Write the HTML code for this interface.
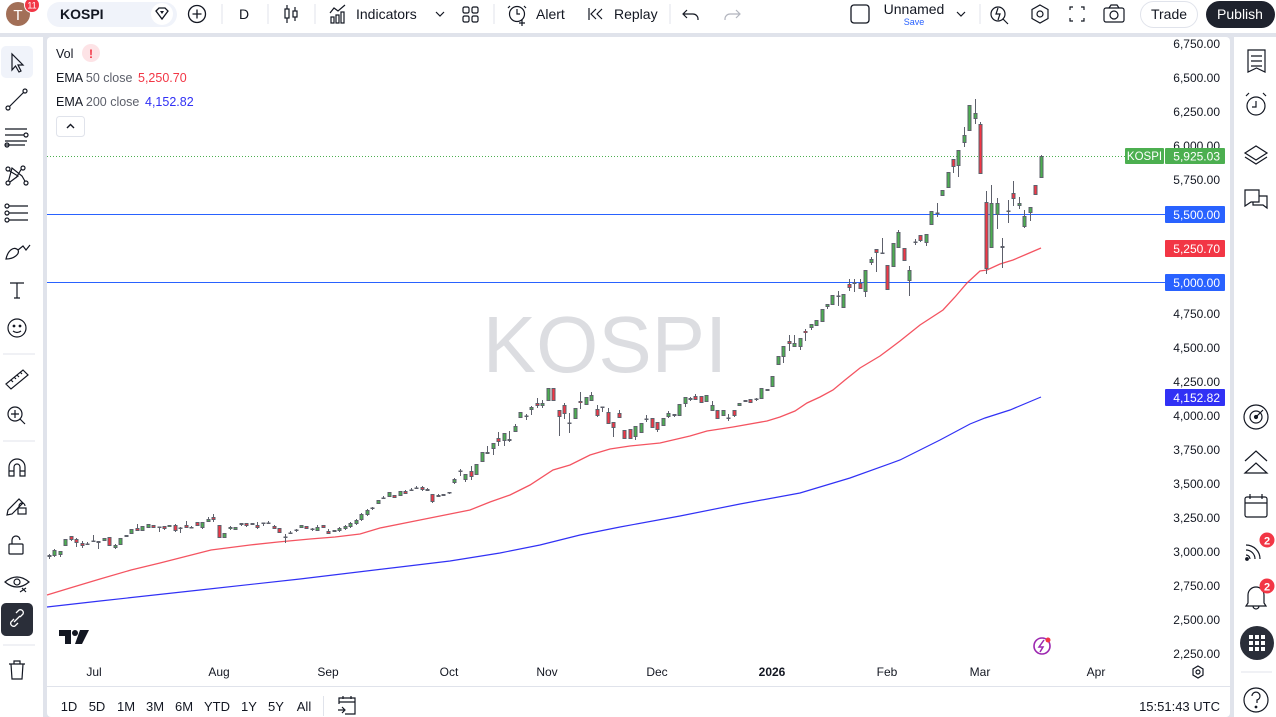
<!DOCTYPE html>
<html><head><meta charset="utf-8"><style>
html,body{margin:0;padding:0;background:#e0e3eb;width:1276px;height:717px;overflow:hidden}
svg{display:block}
text{font-family:"Liberation Sans",Arial,sans-serif}
</style></head><body>
<svg width="1276" height="717" viewBox="0 0 1276 717" xmlns="http://www.w3.org/2000/svg">
<rect x="0" y="0" width="1276" height="717" fill="#e0e3eb"/>
<!-- top bar -->
<rect x="0" y="0" width="1276" height="33" fill="#fff"/>
<!-- left toolbar -->
<rect x="0" y="37" width="43" height="680" fill="#fff"/>
<!-- right toolbar -->
<rect x="1234" y="37" width="42" height="680" fill="#fff"/>
<!-- chart panel -->
<rect x="47" y="37" width="1183" height="680" rx="4" fill="#fff"/>

<!-- ===== TOP BAR ===== -->
<circle cx="18" cy="14" r="12" fill="#a26f57"/>
<text x="18" y="20" font-size="15" fill="#fff" text-anchor="middle">T</text>
<circle cx="32" cy="5" r="7.5" fill="#f23645" stroke="#fff" stroke-width="1"/>
<text x="32" y="8.5" font-size="9" fill="#fff" text-anchor="middle">11</text>
<rect x="47" y="2" width="130" height="25" rx="12.5" fill="#f0f3fa"/>
<text x="60" y="19" font-size="14" font-weight="bold" fill="#131722">KOSPI</text>
<circle cx="162" cy="14" r="11" fill="#fff"/>
<path d="M156 11 L159 8 L165 8 L168 11 L162 19 Z" fill="none" stroke="#131722" stroke-width="1.3"/>
<path d="M160 11 L162 14 L164 11 Z" fill="#131722"/>
<circle cx="197" cy="14" r="8.5" fill="none" stroke="#131722" stroke-width="1.3"/>
<path d="M197 9.5v9M192.5 14h9" stroke="#131722" stroke-width="1.3"/>
<g stroke="#e0e3eb" stroke-width="1">
<line x1="222" y1="4" x2="222" y2="24"/><line x1="268" y1="4" x2="268" y2="24"/><line x1="315" y1="4" x2="315" y2="24"/>
<line x1="494" y1="4" x2="494" y2="24"/><line x1="670" y1="4" x2="670" y2="24"/><line x1="980" y1="4" x2="980" y2="24"/>
</g>
<text x="244" y="19" font-size="14" fill="#131722" text-anchor="middle">D</text>
<g stroke="#131722" stroke-width="1.2" fill="none">
<path d="M287 5v18M295 7v14"/><rect x="285" y="9" width="4" height="9" fill="#fff"/><rect x="293" y="11" width="4" height="6" fill="#fff"/>
<path d="M330 13 L334 8 L338 11 L345 5"/><rect x="331" y="17" width="3" height="6"/><rect x="336" y="15" width="3" height="8"/><rect x="341" y="12" width="3" height="11"/>
<path d="M436 12 L440 16 L444 12"/>
<rect x="463" y="7" width="6" height="6" rx="1.5"/><rect x="472" y="7" width="6" height="6" rx="1.5"/><rect x="463" y="16" width="6" height="6" rx="1.5"/><rect x="472" y="16" width="6" height="6" rx="1.5"/>
<circle cx="517" cy="14" r="7.5"/><path d="M517 9v5h3M510 6l-2 2M524 6l2 2M522 20v6M519 23h6"/>
<path d="M596 9 L591 14 L596 19M602 9 L597 14 L602 19M589 8v12"/>
<path d="M687 10 L683 14 L687 18M684 14 h9 a5 5 0 0 1 5 5v1"/>
</g>
<g stroke="#b2b5be" stroke-width="1.2" fill="none"><path d="M736 10 L740 14 L736 18M739 14 h-9 a5 5 0 0 0 -5 5v1"/></g>
<text x="356" y="19" font-size="14" fill="#131722">Indicators</text>
<text x="536" y="19" font-size="14" fill="#131722">Alert</text>
<text x="614" y="19" font-size="14" fill="#131722">Replay</text>
<rect x="851" y="5" width="18" height="18" rx="3" fill="none" stroke="#131722" stroke-width="1.3"/>
<text x="914" y="14" font-size="14" fill="#131722" text-anchor="middle">Unnamed</text>
<text x="914" y="25" font-size="9" fill="#2962ff" text-anchor="middle">Save</text>
<g stroke="#131722" stroke-width="1.2" fill="none">
<path d="M957 12 L961 16 L965 12"/>
<circle cx="998" cy="14" r="7"/><path d="M1003 19 l5 5M998 8 l-2 6 h4 l-2 6"/>
<path d="M1040 5 L1048 9.5 L1048 18.5 L1040 23 L1032 18.5 L1032 9.5 Z"/><circle cx="1040" cy="14" r="3"/>
<path d="M1070 10v-3h3M1081 7h3v3M1084 18v3h-3M1073 21h-3v-3"/>
<rect x="1104" y="8" width="20" height="14" rx="2"/><circle cx="1114" cy="15" r="4"/><path d="M1109 8l2-3h6l2 3"/>
</g>
<rect x="1140.5" y="1.5" width="57" height="26" rx="13" fill="#fff" stroke="#e0e3eb"/>
<text x="1169" y="19" font-size="14" fill="#131722" text-anchor="middle">Trade</text>
<rect x="1206" y="1" width="69" height="27" rx="13.5" fill="#1e222d"/>
<text x="1240" y="19" font-size="14" fill="#fff" text-anchor="middle">Publish</text>

<!-- ===== LEFT TOOLBAR ===== -->
<rect x="1" y="46" width="32" height="32" rx="5" fill="#f0f3fa"/>
<rect x="1" y="603" width="32" height="33" rx="5" fill="#2a2e39"/>
<g stroke="#e0e3eb"><line x1="3" y1="354" x2="35" y2="354"/><line x1="3" y1="441" x2="35" y2="441"/><line x1="3" y1="645" x2="35" y2="645"/></g>
<g stroke="#131722" stroke-width="1.2" fill="none">
<path d="M12 54 L12 70 L15.5 66 L19 72 L21 71 L18 65 L23 65 Z"/>
<path d="M8 108 L24 92"/><circle cx="8" cy="108" r="2" fill="#fff"/><circle cx="25" cy="91" r="2" fill="#fff"/>
<path d="M5 129h22M5 135h22M5 141h22"/><circle cx="7" cy="145" r="2" fill="#fff"/><circle cx="26" cy="135" r="2" fill="#fff"/><path d="M5 145h20"/>
<path d="M8 183 L12 168 L22 176 L26 183 M8 170 L18 176 L10 182 M22 168 L16 178"/><circle cx="8" cy="169" r="2" fill="#fff"/><circle cx="23" cy="168" r="2" fill="#fff"/><circle cx="8" cy="183" r="2" fill="#fff"/><circle cx="26" cy="183" r="2" fill="#fff"/>
<path d="M8 206h20M8 213h20M8 220h20"/><circle cx="7" cy="206" r="2" fill="#fff"/><circle cx="7" cy="213" r="2" fill="#fff"/><circle cx="7" cy="220" r="2" fill="#fff"/>
<path d="M6 259 C8 250 14 246 18 250 C20 254 14 259 6 259 Z M18 250 L23 246 L26 250 L30 245"/>
<path d="M10 283h14M17 283v15M14 298h6"/>
<circle cx="17" cy="328" r="9"/><circle cx="14" cy="326" r="0.8" fill="#131722"/><circle cx="20" cy="326" r="0.8" fill="#131722"/><path d="M13 331 q4 3 8 0"/>
<path d="M6 384 L23 370 L28 375 L11 389 Z M11 380l2 2M14 377l2 2M17 375l2 2M20 372l2 2"/>
<circle cx="15" cy="414" r="7"/><path d="M20 419 l5 5M15 410v8M11 414h8"/>
<path d="M9 476 v-9 a8 8 0 0 1 16 0 v9 h-5 v-9 a3 3 0 0 0 -6 0 v9 Z M9 471h5M20 471h5"/>
<path d="M8 510 L19 499 L23 503 L12 514 L7 515 Z"/><rect x="18" y="508" width="8" height="6"/><path d="M19 508v-2a3 3 0 0 1 6 0"/>
<rect x="9" y="544" width="14" height="10" rx="1"/><path d="M12 544v-4a4 4 0 0 1 8 0"/>
<path d="M5 582 q12 -10 24 0 q-12 10 -24 0 Z"/><circle cx="17" cy="582" r="3"/><path d="M20 592 l6 -4M22 588l4 4"/>
</g>
<g stroke="#fff" stroke-width="1.3" fill="none"><path d="M14 619 l-3 3 a3 3 0 0 0 4 4 l3 -3 M20 617 l3 -3 a3 3 0 0 0 -4 -4 l-3 3 M14 622 l6 -6"/></g>
<g stroke="#131722" stroke-width="1.2" fill="none"><path d="M9 664h16M14 664v-3h6v3M11 664 l1 15h10 l1 -15"/></g>

<!-- ===== RIGHT TOOLBAR ===== -->
<g stroke="#131722" stroke-width="1.2" fill="none">
<path d="M1248 50 h17 v22 l-8.5 -4 l-8.5 4 Z M1251 56h11M1251 61h11M1251 66h11"/>
<circle cx="1256" cy="106" r="9"/><path d="M1256 101v6h-4M1246 96l3 -3M1266 96l-3 -3"/>
<path d="M1245 153 L1256 146 L1267 153 L1256 160 Z M1245 157 L1256 164 L1267 157"/>
<path d="M1245 190 h14 v12 h-8 l-6 4 Z M1259 196 h8 v12 l-4 -3 h-10 v-3"/>
<circle cx="1256" cy="417" r="12"/><circle cx="1256" cy="417" r="6"/><circle cx="1256" cy="417" r="1.5" fill="#131722"/><path d="M1256 417 l7 -7"/>
<path d="M1245 461 L1256 451 L1267 461 M1245 473 L1256 463 L1267 473 Z"/>
<rect x="1245" y="497" width="22" height="20" rx="2"/><path d="M1245 503h22M1250 494v5M1262 494v5"/>
<path d="M1246 545 a14 14 0 0 1 14 14 M1246 550 a9 9 0 0 1 9 9 M1246 555 a4 4 0 0 1 4 4"/><circle cx="1247" cy="559" r="1.3" fill="#131722"/>
<path d="M1248 603 v-8 a8 8 0 0 1 16 0 v8 l2 3 h-20 Z M1253 606 a3 3 0 0 0 6 0"/>
<circle cx="1256" cy="700" r="12"/><path d="M1252 696 a4 4 0 1 1 5 4 v3"/><circle cx="1256" cy="707" r="0.8" fill="#131722"/>
</g>
<circle cx="1267" cy="540" r="7.5" fill="#f23645"/><text x="1267" y="544.5" font-size="11" font-weight="bold" fill="#fff" text-anchor="middle">2</text>
<circle cx="1267" cy="586" r="7.5" fill="#f23645"/><text x="1267" y="590.5" font-size="11" font-weight="bold" fill="#fff" text-anchor="middle">2</text>
<circle cx="1257" cy="643" r="17" fill="#2a2e39"/>
<g fill="#fff"><rect x="1249" y="635" width="4" height="4"/><rect x="1255" y="635" width="4" height="4"/><rect x="1261" y="635" width="4" height="4"/><rect x="1249" y="641" width="4" height="4"/><rect x="1255" y="641" width="4" height="4"/><rect x="1261" y="641" width="4" height="4"/><rect x="1249" y="647" width="4" height="4"/><rect x="1255" y="647" width="4" height="4"/><rect x="1261" y="647" width="4" height="4"/></g>
<line x1="1241" y1="672" x2="1272" y2="672" stroke="#e0e3eb"/>

<!-- ===== CHART ===== -->
<text x="605" y="372" font-size="80" fill="#dcdde1" text-anchor="middle">KOSPI</text>

<!-- horizontal lines -->
<line x1="47" y1="214.5" x2="1165" y2="214.5" stroke="#2962ff" stroke-width="1"/>
<line x1="47" y1="282.5" x2="1165" y2="282.5" stroke="#2962ff" stroke-width="1"/>
<line x1="47" y1="156.5" x2="1125" y2="156.5" stroke="#4caf50" stroke-width="1" stroke-dasharray="1 2"/>

<!-- EMA lines -->
<polyline fill="none" stroke="#f23645" stroke-opacity="0.85" stroke-width="1.3" points="47,595 70,588 100,579 131,570 160,563 211,550 250,545 278,542 310,539 335,537 360,534 380,528 420,520 450,514 470,510 490,502 510,495 530,485 553,470 570,465 590,455 610,449 630,446 660,443 690,436 707,431 733,427 767,421 780,417 795,411 807,403 820,397 833,390 845,380 860,368 880,356 900,341 920,325 943,310 955,297 967,283 980,271 987,270 1000,264 1013,260 1027,254 1041,248"/>
<polyline fill="none" stroke="#3131f5" stroke-width="1.2" points="47,607 100,601 200,590 300,579 400,567 450,561 500,553 540,545 580,535 620,527 680,516 740,504 800,493 850,478 900,460 940,440 970,424 985,418 1010,410 1041,397"/>

<!-- candles: wick lines -->
<g stroke="#5d606b" stroke-width="1">
<path d="M49.5 554v5M54.5 549v8M60.5 551v6M65.5 539v7M71.5 536v5M76.5 538v9M82.5 541v7M87.5 542v3M93.5 535v7M98.5 541v8M104.5 538v3M109.5 537v9M115.5 544v5M120.5 538v7M126.5 535v2M131.5 529v5M137.5 524v7M142.5 526v5M148.5 524v4M153.5 525v3M159.5 527v5M164.5 526v4M169.5 525v2M175.5 524v8M180.5 527v6M186.5 521v7M191.5 526v2M197.5 522v4M202.5 522v7M208.5 517v5M213.5 514v8M219.5 525v13M224.5 533v5M230.5 526v4M235.5 527v3M241.5 523v3M246.5 523v4M252.5 523v2M257.5 522v7M263.5 523v3M268.5 521v3M274.5 525v4M279.5 528v5M285.5 534v9M290.5 531v3M296.5 529v3M301.5 525v3M306.5 526v3M312.5 528v3M317.5 525v6M323.5 525v3M328.5 529v5M334.5 530v2M339.5 527v5M345.5 525v5M350.5 522v6M356.5 519v6M361.5 513v8M367.5 509v7"/>
<path d="M372.5 507v3M378.5 500v4M383.5 496v3M389.5 492v5M394.5 495v3M400.5 491v5M405.5 490v4M411.5 488v3M416.5 486v3M422.5 486v5M427.5 488v3M432.5 494v9M438.5 494v3M443.5 494v2M449.5 492v2M454.5 478v6M460.5 469v7M465.5 474v8M471.5 466v14M476.5 464v11M482.5 452v10M487.5 446v8M493.5 443v12M498.5 432v14M504.5 433v13M509.5 431v11M515.5 424v8M520.5 412v6M526.5 414v6M531.5 406v9M537.5 398v10M542.5 400v8M548.5 388v13M553.5 388v13M559.5 410v26M564.5 403v16M569.5 413v20M575.5 408v11M580.5 392v17M586.5 397v8M591.5 392v9M597.5 405v12M602.5 407v5M608.5 408v16"/>
<path d="M613.5 422v15M619.5 410v8M624.5 430v9M630.5 429v10M635.5 426v14M641.5 423v10M646.5 415v7M652.5 418v10M657.5 422v10M663.5 418v8M668.5 411v7M674.5 414v3M679.5 404v12M685.5 397v10M690.5 397v4M695.5 394v6M701.5 396v7M706.5 395v7M712.5 401v10M717.5 410v9M723.5 410v6M728.5 414v7M734.5 410v7M739.5 403v3M745.5 400v2M750.5 399v4M756.5 398v3M761.5 388v11M767.5 389v2M772.5 376v11M778.5 356v9M783.5 346v17M789.5 335v16M794.5 335v12M800.5 338v12M805.5 329v12M811.5 324v6M816.5 320v6M822.5 309v13M827.5 304v5M832.5 295v10M838.5 291v15M843.5 294v14"/>
<path d="M849.5 279v12M854.5 279v13M860.5 279v10M865.5 270v27M871.5 257v8M876.5 249v23M882.5 238v16M887.5 265v25M893.5 243v24M898.5 230v18M904.5 248v13M909.5 266v30M915.5 239v6M920.5 235v7M926.5 234v12M931.5 211v14M937.5 203v14M942.5 190v6M948.5 172v16M953.5 159v14M958.5 150v27M964.5 127v20M969.5 105v26M975.5 99v25M980.5 122v52M986.5 191v83M991.5 185v63M997.5 198v31M1002.5 238v30M1008.5 200v23M1013.5 181v25M1019.5 197v12M1024.5 210v18M1030.5 207v14M1035.5 185v10M1041.5 155v23"/>
</g>

<!-- candle bodies (outer dark) -->
<g fill="#5d606b">
<rect x="47.5" y="555" width="4" height="2"/><rect x="52.5" y="550" width="4" height="6"/><rect x="58.5" y="551" width="4" height="4"/><rect x="63.5" y="539" width="4" height="7"/><rect x="69.5" y="536" width="4" height="4"/><rect x="74.5" y="539" width="4" height="4"/><rect x="80.5" y="543" width="4" height="3"/><rect x="85.5" y="543.5" width="4" height="1.5"/><rect x="91.5" y="540.5" width="4" height="1.5"/><rect x="96.5" y="541" width="4" height="2"/><rect x="102.5" y="538" width="4" height="3"/><rect x="107.5" y="537" width="4" height="9"/><rect x="113.5" y="545" width="4" height="3"/><rect x="118.5" y="538" width="4" height="7"/><rect x="124.5" y="535" width="4" height="2"/><rect x="129.5" y="529" width="4" height="5"/><rect x="135.5" y="528" width="4" height="3"/><rect x="140.5" y="526" width="4" height="5"/><rect x="146.5" y="524" width="4" height="4"/><rect x="151.5" y="525" width="4" height="3"/><rect x="157.5" y="526.5" width="4" height="1.5"/><rect x="162.5" y="526" width="4" height="3"/><rect x="167.5" y="525" width="4" height="2"/><rect x="173.5" y="525" width="4" height="6"/><rect x="178.5" y="527.5" width="4" height="1.5"/><rect x="184.5" y="525" width="4" height="3"/><rect x="189.5" y="527" width="4" height="1.5"/><rect x="195.5" y="522" width="4" height="4"/><rect x="200.5" y="522" width="4" height="6"/><rect x="206.5" y="519" width="4" height="3"/><rect x="211.5" y="517" width="4" height="3"/><rect x="217.5" y="525" width="4" height="13"/><rect x="222.5" y="533" width="4" height="5"/><rect x="228.5" y="527" width="4" height="2"/><rect x="233.5" y="527" width="4" height="3"/><rect x="239.5" y="523" width="4" height="2"/><rect x="244.5" y="523" width="4" height="3"/><rect x="250.5" y="523" width="4" height="2"/><rect x="255.5" y="525" width="4" height="3"/><rect x="261.5" y="522.5" width="4" height="1.5"/><rect x="266.5" y="522.5" width="4" height="1.5"/><rect x="272.5" y="526" width="4" height="3"/><rect x="277.5" y="528" width="4" height="5"/><rect x="283.5" y="536.5" width="4" height="1.5"/><rect x="288.5" y="532.5" width="4" height="1.5"/><rect x="294.5" y="529.5" width="4" height="1.5"/><rect x="299.5" y="525" width="4" height="3"/><rect x="304.5" y="526" width="4" height="3"/><rect x="310.5" y="528.5" width="4" height="1.5"/><rect x="315.5" y="527" width="4" height="4"/><rect x="321.5" y="525" width="4" height="3"/><rect x="326.5" y="531" width="4" height="3"/><rect x="332.5" y="530" width="4" height="2"/><rect x="337.5" y="528" width="4" height="3"/><rect x="343.5" y="526" width="4" height="3"/><rect x="348.5" y="523" width="4" height="4"/><rect x="354.5" y="520" width="4" height="4"/><rect x="359.5" y="514" width="4" height="6"/><rect x="365.5" y="510" width="4" height="5"/>
<rect x="370.5" y="507.5" width="4" height="1.5"/><rect x="376.5" y="500" width="4" height="4"/><rect x="381.5" y="497.5" width="4" height="1.5"/><rect x="387.5" y="492" width="4" height="5"/><rect x="392.5" y="495" width="4" height="3"/><rect x="398.5" y="491" width="4" height="5"/><rect x="403.5" y="491" width="4" height="3"/><rect x="409.5" y="489.5" width="4" height="1.5"/><rect x="414.5" y="487.5" width="4" height="1.5"/><rect x="420.5" y="487" width="4" height="3"/><rect x="425.5" y="489" width="4" height="2"/><rect x="430.5" y="494" width="4" height="8"/><rect x="436.5" y="495" width="4" height="2"/><rect x="441.5" y="494" width="4" height="2"/><rect x="447.5" y="492" width="4" height="1.5"/><rect x="452.5" y="479" width="4" height="4"/><rect x="458.5" y="470.5" width="4" height="1.5"/><rect x="463.5" y="474" width="4" height="6"/><rect x="469.5" y="471" width="4" height="6"/><rect x="474.5" y="464" width="4" height="11"/><rect x="480.5" y="452" width="4" height="10"/><rect x="485.5" y="452" width="4" height="2"/><rect x="491.5" y="443" width="4" height="6"/><rect x="496.5" y="438" width="4" height="4"/><rect x="502.5" y="433" width="4" height="8"/><rect x="507.5" y="439" width="4" height="2"/><rect x="513.5" y="426" width="4" height="6"/><rect x="518.5" y="412" width="4" height="6"/><rect x="524.5" y="415.5" width="4" height="1.5"/><rect x="529.5" y="407" width="4" height="3"/><rect x="535.5" y="403" width="4" height="3"/><rect x="540.5" y="403" width="4" height="3"/><rect x="546.5" y="388" width="4" height="13"/><rect x="551.5" y="388" width="4" height="13"/><rect x="557.5" y="410" width="4" height="7"/><rect x="562.5" y="405" width="4" height="9"/><rect x="567.5" y="422.5" width="4" height="1.5"/><rect x="573.5" y="408" width="4" height="11"/><rect x="578.5" y="401" width="4" height="2"/><rect x="584.5" y="397" width="4" height="8"/><rect x="589.5" y="395" width="4" height="6"/><rect x="595.5" y="409" width="4" height="7"/><rect x="600.5" y="406.5" width="4" height="1.5"/><rect x="606.5" y="412" width="4" height="12"/>
<rect x="611.5" y="422" width="4" height="6"/><rect x="617.5" y="413" width="4" height="5"/><rect x="622.5" y="430" width="4" height="9"/><rect x="628.5" y="429" width="4" height="10"/><rect x="633.5" y="426" width="4" height="11"/><rect x="639.5" y="423" width="4" height="10"/><rect x="644.5" y="418.5" width="4" height="1.5"/><rect x="650.5" y="418" width="4" height="10"/><rect x="655.5" y="422" width="4" height="8"/><rect x="661.5" y="418" width="4" height="8"/><rect x="666.5" y="413" width="4" height="4"/><rect x="672.5" y="414" width="4" height="2"/><rect x="677.5" y="404" width="4" height="12"/><rect x="683.5" y="397" width="4" height="7"/><rect x="688.5" y="398" width="4" height="2"/><rect x="693.5" y="396" width="4" height="4"/><rect x="699.5" y="396" width="4" height="7"/><rect x="704.5" y="395" width="4" height="7"/><rect x="710.5" y="405" width="4" height="6"/><rect x="715.5" y="410" width="4" height="9"/><rect x="721.5" y="410" width="4" height="6"/><rect x="726.5" y="417.5" width="4" height="1.5"/><rect x="732.5" y="410" width="4" height="6"/><rect x="737.5" y="403" width="4" height="3"/><rect x="743.5" y="400" width="4" height="2"/><rect x="748.5" y="399" width="4" height="4"/><rect x="754.5" y="398.5" width="4" height="1.5"/><rect x="759.5" y="388" width="4" height="11"/><rect x="765.5" y="389" width="4" height="2"/><rect x="770.5" y="376" width="4" height="11"/><rect x="776.5" y="356" width="4" height="9"/><rect x="781.5" y="346" width="4" height="11"/><rect x="787.5" y="341" width="4" height="3"/><rect x="792.5" y="343" width="4" height="4"/><rect x="798.5" y="338" width="4" height="9"/><rect x="803.5" y="331" width="4" height="2"/><rect x="809.5" y="324" width="4" height="4"/><rect x="814.5" y="320" width="4" height="6"/><rect x="820.5" y="309" width="4" height="13"/><rect x="825.5" y="304" width="4" height="3"/><rect x="830.5" y="295" width="4" height="10"/><rect x="836.5" y="295.5" width="4" height="1.5"/><rect x="841.5" y="294" width="4" height="14"/>
<rect x="847.5" y="284" width="4" height="4"/><rect x="852.5" y="282.5" width="4" height="1.5"/><rect x="858.5" y="283" width="4" height="6"/><rect x="863.5" y="270" width="4" height="22"/><rect x="869.5" y="259" width="4" height="4"/><rect x="874.5" y="249" width="4" height="4"/><rect x="880.5" y="252.5" width="4" height="1.5"/><rect x="885.5" y="265" width="4" height="25"/><rect x="891.5" y="243" width="4" height="24"/><rect x="896.5" y="232" width="4" height="16"/><rect x="902.5" y="248" width="4" height="13"/><rect x="907.5" y="270" width="4" height="11"/><rect x="913.5" y="241.5" width="4" height="1.5"/><rect x="918.5" y="235" width="4" height="6"/><rect x="924.5" y="234" width="4" height="9"/><rect x="929.5" y="211" width="4" height="14"/><rect x="935.5" y="212.5" width="4" height="1.5"/><rect x="940.5" y="190" width="4" height="6"/><rect x="946.5" y="172" width="4" height="16"/><rect x="951.5" y="159" width="4" height="8"/><rect x="956.5" y="150" width="4" height="16"/><rect x="962.5" y="135" width="4" height="8"/><rect x="967.5" y="105" width="4" height="26"/><rect x="973.5" y="113" width="4" height="6"/><rect x="978.5" y="124" width="4" height="50"/><rect x="984.5" y="202" width="4" height="67"/><rect x="989.5" y="203" width="4" height="45"/><rect x="995.5" y="203" width="4" height="12"/><rect x="1000.5" y="246" width="4" height="2"/><rect x="1006.5" y="210.5" width="4" height="1.5"/><rect x="1011.5" y="193" width="4" height="6"/><rect x="1017.5" y="203" width="4" height="3"/><rect x="1022.5" y="216" width="4" height="11"/><rect x="1028.5" y="207" width="4" height="6"/><rect x="1033.5" y="185" width="4" height="10"/><rect x="1039.5" y="156" width="4" height="22"/>
</g>
<!-- green fills -->
<g fill="#4caf50">
<rect x="53.5" y="551" width="2" height="4"/><rect x="59.5" y="552" width="2" height="2"/><rect x="64.5" y="540" width="2" height="5"/><rect x="103.5" y="539" width="2" height="1"/><rect x="114.5" y="546" width="2" height="1"/><rect x="119.5" y="539" width="2" height="5"/><rect x="130.5" y="530" width="2" height="3"/><rect x="141.5" y="527" width="2" height="3"/><rect x="147.5" y="525" width="2" height="2"/><rect x="168.5" y="526" width="2" height="0.5"/><rect x="201.5" y="523" width="2" height="4"/><rect x="207.5" y="520" width="2" height="1"/><rect x="223.5" y="534" width="2" height="3"/><rect x="229.5" y="528" width="2" height="0.5"/><rect x="234.5" y="528" width="2" height="1"/><rect x="300.5" y="526" width="2" height="1"/><rect x="316.5" y="528" width="2" height="2"/><rect x="338.5" y="529" width="2" height="1"/><rect x="344.5" y="527" width="2" height="1"/><rect x="349.5" y="524" width="2" height="2"/><rect x="355.5" y="521" width="2" height="2"/><rect x="360.5" y="515" width="2" height="4"/><rect x="366.5" y="511" width="2" height="3"/>
<rect x="377.5" y="501" width="2" height="2"/><rect x="388.5" y="493" width="2" height="3"/><rect x="399.5" y="492" width="2" height="3"/><rect x="453.5" y="480" width="2" height="2"/><rect x="464.5" y="475" width="2" height="4"/><rect x="475.5" y="465" width="2" height="9"/><rect x="481.5" y="453" width="2" height="8"/><rect x="492.5" y="444" width="2" height="4"/><rect x="503.5" y="434" width="2" height="6"/><rect x="514.5" y="427" width="2" height="4"/><rect x="519.5" y="413" width="2" height="4"/><rect x="530.5" y="408" width="2" height="1"/><rect x="541.5" y="404" width="2" height="1"/><rect x="547.5" y="389" width="2" height="11"/><rect x="574.5" y="409" width="2" height="9"/><rect x="585.5" y="398" width="2" height="6"/><rect x="590.5" y="396" width="2" height="4"/>
<rect x="634.5" y="427" width="2" height="9"/><rect x="640.5" y="424" width="2" height="8"/><rect x="662.5" y="419" width="2" height="6"/><rect x="667.5" y="414" width="2" height="2"/><rect x="678.5" y="405" width="2" height="10"/><rect x="684.5" y="398" width="2" height="5"/><rect x="705.5" y="396" width="2" height="5"/><rect x="711.5" y="406" width="2" height="4"/><rect x="722.5" y="411" width="2" height="4"/><rect x="738.5" y="404" width="2" height="1"/><rect x="760.5" y="389" width="2" height="9"/><rect x="771.5" y="377" width="2" height="9"/><rect x="777.5" y="357" width="2" height="7"/><rect x="782.5" y="347" width="2" height="9"/><rect x="793.5" y="344" width="2" height="2"/><rect x="799.5" y="339" width="2" height="7"/><rect x="810.5" y="325" width="2" height="2"/><rect x="815.5" y="321" width="2" height="4"/><rect x="821.5" y="310" width="2" height="11"/><rect x="826.5" y="305" width="2" height="1"/><rect x="831.5" y="296" width="2" height="8"/><rect x="842.5" y="295" width="2" height="12"/>
<rect x="864.5" y="271" width="2" height="20"/><rect x="870.5" y="260" width="2" height="2"/><rect x="892.5" y="244" width="2" height="22"/><rect x="897.5" y="233" width="2" height="14"/><rect x="908.5" y="271" width="2" height="9"/><rect x="925.5" y="235" width="2" height="7"/><rect x="930.5" y="212" width="2" height="12"/><rect x="941.5" y="191" width="2" height="4"/><rect x="947.5" y="173" width="2" height="14"/><rect x="957.5" y="151" width="2" height="14"/><rect x="963.5" y="136" width="2" height="6"/><rect x="968.5" y="106" width="2" height="24"/><rect x="974.5" y="114" width="2" height="4"/><rect x="990.5" y="204" width="2" height="43"/><rect x="996.5" y="204" width="2" height="10"/><rect x="1018.5" y="204" width="2" height="1"/><rect x="1023.5" y="217" width="2" height="9"/><rect x="1029.5" y="208" width="2" height="4"/><rect x="1040.5" y="157" width="2" height="20"/>
</g>
<!-- red fills -->
<g fill="#f23645">
<rect x="70.5" y="537" width="2" height="2"/><rect x="75.5" y="540" width="2" height="2"/><rect x="81.5" y="544" width="2" height="1"/><rect x="108.5" y="538" width="2" height="7"/><rect x="136.5" y="529" width="2" height="1"/><rect x="152.5" y="526" width="2" height="1"/><rect x="163.5" y="527" width="2" height="1"/><rect x="174.5" y="526" width="2" height="4"/><rect x="185.5" y="526" width="2" height="1"/><rect x="196.5" y="523" width="2" height="2"/><rect x="212.5" y="518" width="2" height="1"/><rect x="218.5" y="526" width="2" height="11"/><rect x="245.5" y="524" width="2" height="1"/><rect x="256.5" y="526" width="2" height="1"/><rect x="273.5" y="527" width="2" height="1"/><rect x="278.5" y="529" width="2" height="3"/><rect x="305.5" y="527" width="2" height="1"/><rect x="322.5" y="526" width="2" height="1"/><rect x="327.5" y="532" width="2" height="1"/>
<rect x="393.5" y="496" width="2" height="1"/><rect x="404.5" y="492" width="2" height="1"/><rect x="421.5" y="488" width="2" height="1"/><rect x="431.5" y="495" width="2" height="6"/><rect x="470.5" y="472" width="2" height="4"/><rect x="497.5" y="439" width="2" height="2"/><rect x="536.5" y="404" width="2" height="1"/><rect x="552.5" y="389" width="2" height="11"/><rect x="558.5" y="411" width="2" height="5"/><rect x="563.5" y="406" width="2" height="7"/><rect x="579.5" y="402" width="2" height="0.5"/><rect x="596.5" y="410" width="2" height="5"/><rect x="607.5" y="413" width="2" height="10"/>
<rect x="612.5" y="423" width="2" height="4"/><rect x="618.5" y="414" width="2" height="3"/><rect x="623.5" y="431" width="2" height="7"/><rect x="629.5" y="430" width="2" height="8"/><rect x="651.5" y="419" width="2" height="8"/><rect x="656.5" y="423" width="2" height="6"/><rect x="694.5" y="397" width="2" height="2"/><rect x="700.5" y="397" width="2" height="5"/><rect x="716.5" y="411" width="2" height="7"/><rect x="733.5" y="411" width="2" height="4"/><rect x="749.5" y="400" width="2" height="2"/><rect x="788.5" y="342" width="2" height="1"/><rect x="804.5" y="331.5" width="2" height="1"/>
<rect x="848.5" y="285" width="2" height="2"/><rect x="859.5" y="284" width="2" height="4"/><rect x="875.5" y="250" width="2" height="2"/><rect x="886.5" y="266" width="2" height="23"/><rect x="903.5" y="249" width="2" height="11"/><rect x="919.5" y="236" width="2" height="4"/><rect x="952.5" y="160" width="2" height="6"/><rect x="979.5" y="125" width="2" height="48"/><rect x="985.5" y="203" width="2" height="65"/><rect x="1012.5" y="194" width="2" height="4"/><rect x="1034.5" y="186" width="2" height="8"/>
</g>

<!-- legend -->
<text x="56" y="58" font-size="12.5" fill="#131722">Vol</text>
<circle cx="91" cy="53" r="9" fill="#fde3e6"/>
<text x="91" y="58" font-size="12" font-weight="bold" fill="#f23645" text-anchor="middle">!</text>
<text x="56" y="82" font-size="12.5" fill="#131722">EMA <tspan fill="#5d606b">50 close</tspan></text>
<text x="138" y="82" font-size="12.5" fill="#f23645">5,250.70</text>
<text x="56" y="106" font-size="12.5" fill="#131722">EMA <tspan fill="#5d606b">200 close</tspan></text>
<text x="145" y="106" font-size="12.5" fill="#3131f5">4,152.82</text>
<rect x="56.5" y="116.5" width="28" height="20" rx="3" fill="#fff" stroke="#e0e3eb"/>
<path d="M67 128 L70.5 124.5 L74 128" stroke="#131722" stroke-width="1.4" fill="none"/>

<!-- price axis -->
<g font-size="12" fill="#131722" text-anchor="end">
<text x="1220" y="48">6,750.00</text><text x="1220" y="82">6,500.00</text><text x="1220" y="116">6,250.00</text><text x="1220" y="150">6,000.00</text><text x="1220" y="184">5,750.00</text>
<text x="1220" y="318">4,750.00</text><text x="1220" y="352">4,500.00</text><text x="1220" y="386">4,250.00</text><text x="1220" y="420">4,000.00</text><text x="1220" y="454">3,750.00</text><text x="1220" y="488">3,500.00</text><text x="1220" y="522">3,250.00</text><text x="1220" y="556">3,000.00</text><text x="1220" y="590">2,750.00</text><text x="1220" y="624">2,500.00</text><text x="1220" y="658">2,250.00</text>
</g>
<rect x="1125" y="148" width="39" height="16" rx="1" fill="#4caf50"/>
<text x="1144.5" y="160" font-size="11.5" fill="#fff" text-anchor="middle">KOSPI</text>
<rect x="1165" y="148" width="60" height="16" rx="1" fill="#4caf50"/>
<text x="1220" y="160.5" font-size="12" fill="#fff" text-anchor="end">5,925.03</text>
<rect x="1165" y="206" width="60" height="17" rx="1" fill="#2962ff"/>
<text x="1220" y="219" font-size="12" fill="#fff" text-anchor="end">5,500.00</text>
<rect x="1165" y="240" width="60" height="17" rx="1" fill="#f23645"/>
<text x="1220" y="253" font-size="12" fill="#fff" text-anchor="end">5,250.70</text>
<rect x="1165" y="274" width="60" height="17" rx="1" fill="#2962ff"/>
<text x="1220" y="287" font-size="12" fill="#fff" text-anchor="end">5,000.00</text>
<rect x="1165" y="389" width="60" height="17" rx="1" fill="#3131f5"/>
<text x="1220" y="402" font-size="12" fill="#fff" text-anchor="end">4,152.82</text>

<!-- logo -->
<g fill="#131722">
<path d="M59 630 h12 v14 h-6 v-8 h-6 Z"/><circle cx="75" cy="633" r="3"/><path d="M80 630 h9 l-7 14 h-7 Z"/>
</g>
<!-- lightning icon -->
<circle cx="1042" cy="646" r="8" fill="none" stroke="#9c27b0" stroke-width="1.6"/>
<path d="M1044 640 L1039 647 L1043 647 L1040 652" stroke="#9c27b0" stroke-width="1.5" fill="none"/>
<circle cx="1048" cy="640" r="2.5" fill="#f23645"/>

<!-- time axis -->
<g font-size="12" fill="#131722" text-anchor="middle">
<text x="94" y="676">Jul</text><text x="219" y="676">Aug</text><text x="328" y="676">Sep</text><text x="449" y="676">Oct</text><text x="547" y="676">Nov</text><text x="657" y="676">Dec</text><text x="772" y="676" font-weight="bold">2026</text><text x="887" y="676">Feb</text><text x="980" y="676">Mar</text><text x="1096" y="676">Apr</text>
</g>
<path d="M1198 666 L1203 669 L1203 675 L1198 678 L1193 675 L1193 669 Z" fill="none" stroke="#131722" stroke-width="1.2"/>
<circle cx="1198" cy="672" r="2" fill="none" stroke="#131722" stroke-width="1.2"/>
<line x1="47" y1="686.5" x2="1230" y2="686.5" stroke="#e0e3eb"/>

<!-- bottom toolbar -->
<g font-size="13" fill="#131722" text-anchor="middle">
<text x="69" y="711">1D</text><text x="97" y="711">5D</text><text x="126" y="711">1M</text><text x="155" y="711">3M</text><text x="184" y="711">6M</text><text x="217" y="711">YTD</text><text x="249" y="711">1Y</text><text x="276" y="711">5Y</text><text x="304" y="711">All</text>
</g>
<line x1="323.5" y1="696" x2="323.5" y2="716" stroke="#e0e3eb"/>
<g stroke="#131722" stroke-width="1.2" fill="none"><path d="M339 704 v-6 h16 v16 h-10 M339 702h16M343 696v3M351 696v3M338 710 h6 M342 707 l3 3 l-3 3"/></g>
<text x="1220" y="711" font-size="13" fill="#131722" text-anchor="end">15:51:43 UTC</text>
</svg>
</body></html>
